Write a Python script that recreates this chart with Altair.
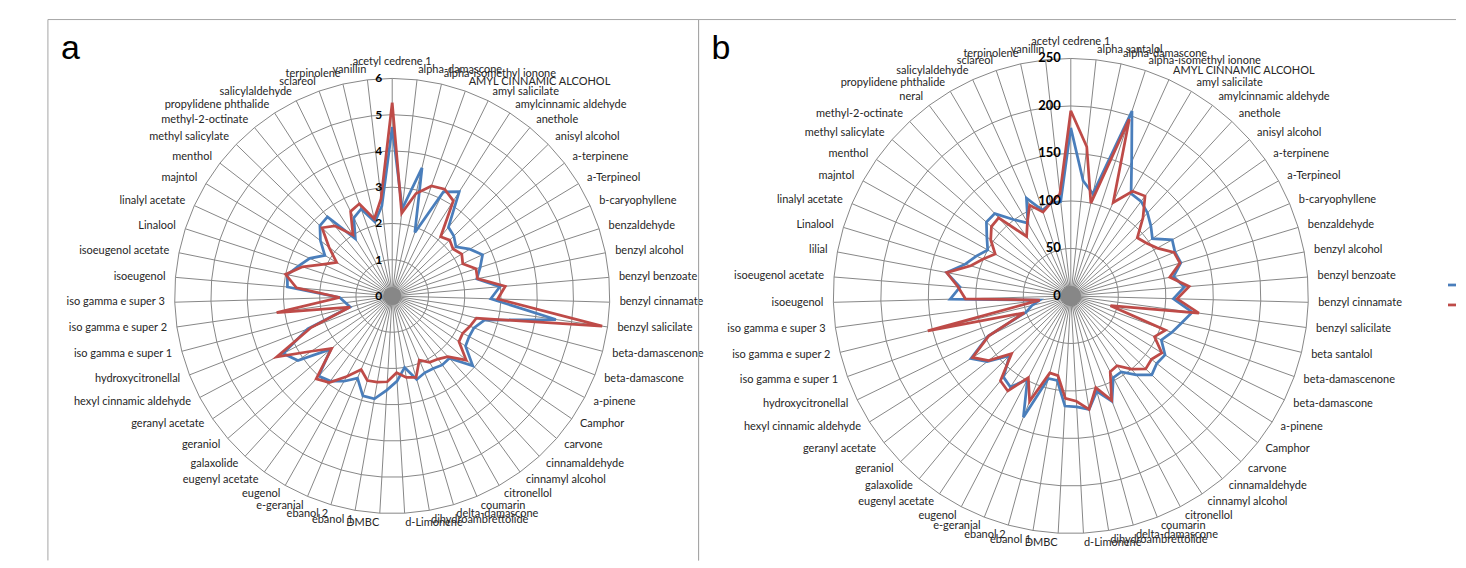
import altair as alt
import pandas as pd

# ---------------- data ----------------
cats_a = ["acetyl cedrene 1", "alpha-damascone", "alpha-isomethyl ionone", "AMYL CINNAMIC  ALCOHOL",
          "amyl salicilate", "amylcinnamic  aldehyde", "anethole", "anisyl alcohol", "a-terpinene",
          "a-Terpineol", "b-caryophyllene", "benzaldehyde", "benzyl alcohol", "benzyl benzoate",
          "benzyl cinnamate", "benzyl salicilate", "beta-damascenone", "beta-damascone", "a-pinene",
          "Camphor", "carvone", "cinnamaldehyde", "cinnamyl alcohol", "citronellol", "coumarin",
          "delta-damascone", "dihydroambrettolide", "d-Limonene", "DMBC", "ebanol 1", "ebanol 2",
          "e-geranial", "eugenol", "eugenyl acetate", "galaxolide", "geraniol", "geranyl acetate",
          "hexyl cinnamic aldehyde", "hydroxycitronellal", "iso gamma  e super 1", "iso gamma  e super 2",
          "iso gamma  e super 3", "isoeugenol", "isoeugenol acetate", "Linalool", "linalyl acetate",
          "majntol", "menthol", "methyl salicylate", "methyl-2-octinate", "propylidene phthalide",
          "salicylaldehyde", "sclareol", "terpinolene", "vanillin"]
blue_a = [4.66, 2.42, 3.63, 1.86, 3.20, 3.42, 2.45, 2.37, 2.22, 2.50, 2.74, 2.55, 2.38, 2.98,
          2.72, 4.56, 2.63, 2.42, 2.40, 2.45, 2.94, 2.33, 2.35, 2.30, 2.30, 2.40, 2.00, 2.35,
          2.60, 2.88, 2.87, 2.46, 2.70, 2.90, 3.00, 2.24, 3.15, 3.40, 2.50, 1.20, 1.30, 1.45,
          2.90, 2.95, 2.70, 2.50, 2.17, 2.50, 2.78, 2.82, 1.88, 2.40, 2.55, 2.10, 2.50]
red_a = [5.33, 2.30, 2.90, 3.22, 3.28, 3.12, 2.11, 2.21, 2.12, 2.24, 2.14, 2.43, 2.40, 3.13,
         2.91, 5.85, 2.40, 2.30, 2.20, 2.23, 2.70, 2.27, 2.15, 2.10, 1.92, 2.34, 2.28, 2.12,
         2.37, 2.41, 2.43, 2.20, 2.55, 2.95, 3.10, 2.21, 2.70, 3.60, 2.40, 1.20, 3.22, 1.45,
         2.65, 3.00, 2.60, 2.10, 1.79, 2.20, 2.70, 2.50, 2.00, 2.60, 2.70, 2.18, 2.70]

cats_b = ["acetyl cedrene 1", "alpha santalol", "alpha-damascone", "alpha-isomethyl ionone",
          "AMYL CINNAMIC  ALCOHOL", "amyl salicilate", "amylcinnamic  aldehyde", "anethole",
          "anisyl alcohol", "a-terpinene", "a-Terpineol", "b-caryophyllene", "benzaldehyde",
          "benzyl alcohol", "benzyl benzoate", "benzyl cinnamate", "benzyl salicilate", "beta santalol",
          "beta-damascenone", "beta-damascone", "a-pinene", "Camphor", "carvone", "cinnamaldehyde",
          "cinnamyl alcohol", "citronellol", "coumarin", "delta-damascone", "dihydroambrettolide",
          "d-Limonene", "DMBC", "ebanol 1", "ebanol 2", "e-geranial", "eugenol", "eugenyl acetate",
          "galaxolide", "geraniol", "geranyl acetate", "hexyl cinnamic aldehyde", "hydroxycitronellal",
          "iso gamma  e super 1", "iso gamma  e super 2", "iso gamma  e super 3", "isoeugenol",
          "isoeugenol acetate", "lilial", "Linalool", "linalyl acetate", "majntol", "menthol",
          "methyl salicylate", "methyl-2-octinate", "neral", "propylidene phthalide", "salicylaldehyde",
          "sclareol", "terpinolene", "vanillin"]
blue_b = [177, 122, 110, 205, 155, 125, 124, 119, 112, 105, 122, 119, 121, 110, 120, 108, 129, 120,
          113, 106, 117, 115, 119, 108, 96, 97, 119, 104, 121, 117, 116, 90, 90, 137, 99, 115, 111,
          90, 112, 124, 97, 50, 42, 33, 127, 117, 133, 116, 108, 100, 108, 118, 118, 100, 89, 113,
          95, 100, 100]
red_b = [195, 158, 100, 196, 108, 128, 131, 112, 93, 97, 104, 118, 120, 106, 125, 112, 136, 43,
         106, 98, 113, 108, 110, 100, 88, 90, 118, 100, 121, 111, 108, 85, 84, 119, 97, 120, 116,
         87, 110, 122, 96, 52, 155, 33, 111, 119, 133, 110, 100, 91, 103, 111, 112, 78, 90, 105,
         93, 100, 108]

ticks_a = [0, 1, 2, 3, 4, 5, 6]
ticks_b = [0, 50, 100, 150, 200, 250]
series = ["Series1", "Series2"]
colors = ["#4A7EBB", "#BE4B48"]

# ---------------- style ----------------
GRID = "#878787"
BORDER = "#a6a6a6"
LABEL_FONT = "Lato, Liberation Sans, Arial, sans-serif"
H = 542


def panel(cats, blue, red, ticks, W, cx, cy, ppu, letter, tick_fs, legend, blob):
    N = len(cats)
    rmax = ticks[-1]
    xs = alt.Scale(domain=[-cx / ppu, (W - cx) / ppu], nice=False, zero=False)
    ys = alt.Scale(domain=[-(H - cy) / ppu, cy / ppu], nice=False, zero=False)

    def X(f):
        return alt.X(f"{f}:Q", scale=xs, axis=None)

    def Y(f):
        return alt.Y(f"{f}:Q", scale=ys, axis=None)

    ang = f"datum.i * 2 * PI / {N}"
    cat_df = pd.DataFrame({"cat": cats, "i": list(range(N))})

    spokes = alt.Chart(cat_df).transform_calculate(a=ang).transform_calculate(
        x0="0", y0="0", x1=f"{rmax}*sin(datum.a)", y1=f"{rmax}*cos(datum.a)"
    ).mark_rule(color=GRID, strokeWidth=1).encode(
        x=X("x0"), y=Y("y0"), x2=alt.X2("x1"), y2=alt.Y2("y1")
    )

    grid_rows = [{"k": k, "i": i} for k in ticks[1:] for i in range(N + 1)]
    grid = alt.Chart(pd.DataFrame(grid_rows)).transform_calculate(a=ang).transform_calculate(
        gx="datum.k*sin(datum.a)", gy="datum.k*cos(datum.a)"
    ).mark_line(color=GRID, strokeWidth=1).encode(
        x=X("gx"), y=Y("gy"), detail="k:N", order="i:Q"
    )

    hub = alt.Chart(pd.DataFrame({"z": [0]})).mark_point(
        shape="circle", filled=True, color=GRID, opacity=1, size=blob
    ).encode(x=X("z"), y=Y("z"))

    line_rows = [{"s": s, "i": i, "v": vals[i % N]}
                 for s, vals in zip(series, [blue, red]) for i in range(N + 1)]
    lines = alt.Chart(pd.DataFrame(line_rows)).transform_calculate(a=ang).transform_calculate(
        px="datum.v*sin(datum.a)", py="datum.v*cos(datum.a)"
    ).mark_line(strokeWidth=2.75).encode(
        x=X("px"), y=Y("py"),
        color=alt.Color("s:N", scale=alt.Scale(domain=series, range=colors), legend=None),
        order="i:Q"
    )

    tick_labels = alt.Chart(pd.DataFrame({"t": ticks})).transform_calculate(z="0").mark_text(
        align="right", baseline="middle", dx=-10, fontSize=tick_fs, fontWeight="bold",
        font=LABEL_FONT, color="#000000"
    ).encode(x=X("z"), y=Y("t"), text=alt.Text("t:Q"))

    roff = rmax + 10.0 / ppu
    rtop = rmax + 11.0 / ppu
    base = alt.Chart(cat_df).transform_calculate(a=ang).transform_calculate(
        s="sin(datum.a)", c="cos(datum.a)"
    ).transform_calculate(
        lx=f"{roff}*datum.s", ly=f"{roff}*datum.c", tx=f"{rtop}*datum.s", ty=f"{rtop}*datum.c"
    )
    txt = dict(fontSize=11, font=LABEL_FONT, color="#262626")
    lab_r = base.transform_filter("datum.s > 0.02").mark_text(
        align="left", baseline="middle", **txt).encode(x=X("lx"), y=Y("ly"), text="cat:N")
    lab_l = base.transform_filter("datum.s < -0.02").mark_text(
        align="right", baseline="middle", **txt).encode(x=X("lx"), y=Y("ly"), text="cat:N")
    lab_c = base.transform_filter("abs(datum.s) <= 0.02").mark_text(
        align="center", baseline="bottom", **txt).encode(x=X("tx"), y=Y("ty"), text="cat:N")

    letter_mark = alt.Chart(pd.DataFrame({"t": [letter]})).mark_text(
        align="left", baseline="alphabetic", fontSize=34, font="Liberation Sans, Arial, sans-serif",
        color="#000000"
    ).encode(x=alt.value(13), y=alt.value(40), text="t:N")

    one = pd.DataFrame({"d": [0]})
    layers = [grid, spokes, hub, lines, tick_labels, lab_r, lab_l, lab_c, letter_mark]
    # panel borders
    layers.append(alt.Chart(one).mark_rule(color=BORDER, strokeWidth=1).encode(
        x=alt.value(0), x2=alt.value(W), y=alt.value(0)))
    layers.append(alt.Chart(one).mark_rule(color=BORDER, strokeWidth=1).encode(
        x=alt.value(0), y=alt.value(0), y2=alt.value(H)))
    if not legend:
        layers.append(alt.Chart(one).mark_rule(color=BORDER, strokeWidth=1).encode(
            x=alt.value(W), y=alt.value(0), y2=alt.value(H)))
    else:
        for col, yy in zip(colors, [266, 286]):
            layers.append(alt.Chart(one).mark_rule(color=col, strokeWidth=2.75).encode(
                x=alt.value(W - 8), x2=alt.value(W), y=alt.value(yy)))

    return alt.layer(*layers).properties(width=W, height=H)


pa = panel(cats_a, blue_a, red_a, ticks_a, 652, 345, 277, 218 / 6, "a", 12, False, 330)
pb = panel(cats_b, blue_b, red_b, ticks_b, 759, 373, 277, 238 / 250, "b", 13, True, 420)

chart = alt.hconcat(pa, pb, spacing=0, bounds="flush").properties(
    padding={"left": 39, "top": 10, "right": 0, "bottom": 0}
).configure_view(stroke=None)

chart.save("out.html", embed_options={"renderer": "svg", "actions": False})
